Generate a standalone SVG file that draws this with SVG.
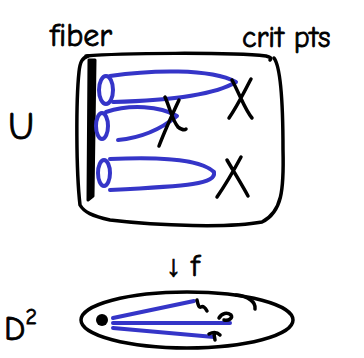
<svg xmlns="http://www.w3.org/2000/svg" width="364" height="358" viewBox="0 0 364 358">
<style>
.k{fill:none;stroke:#000;stroke-width:3.5;stroke-linecap:round;stroke-linejoin:round}
.b{fill:none;stroke:#3535c8;stroke-width:4;stroke-linecap:round;stroke-linejoin:round}
.t{font-family:"Comic Neue","Liberation Sans",sans-serif;fill:#000;stroke:#000;stroke-width:0.8}
</style>
<rect width="364" height="358" fill="#fff"/>
<g id="labels">
<text class="t" x="50" y="46" font-size="32">fiber</text>
<text class="t" x="242" y="47" font-size="30">crit pts</text>
<text class="t" x="8" y="139" font-size="38">U</text>
<text class="t" x="4" y="340" font-size="34">D<tspan font-size="22" dy="-16">2</tspan></text>
<text class="t" x="166" y="276" font-size="30">↓ f</text>
</g>
<g id="total-space">
<path class="k" d="M86,56 C120,53 230,52 266,56 C270,57 272,58 270,60"/>
<path class="k" d="M274,58 C280,66 283,100 283,150 C284,190 282,212 262,222 C230,228 160,226 110,220 C92,216 84,212 80,205 C76,170 76,100 79,72 C80,62 82,58 88,56"/>
<path d="M89,60 L88,200 L93,196 L95,60 Z" fill="#000" stroke="#000" stroke-width="3" stroke-linejoin="round"/>
</g>
<g id="loops">
<ellipse class="b" cx="106" cy="90" rx="7" ry="14"/>
<path class="b" d="M110,76 C150,70 210,68 236,82 C210,98 150,101 113,102"/>
<ellipse class="b" cx="102" cy="126" rx="6" ry="13"/>
<path class="b" d="M106,112 C130,104 160,106 177,116 C160,130 140,138 118,140"/>
<ellipse class="b" cx="104" cy="173" rx="6" ry="13"/>
<path class="b" d="M110,159 C150,157 200,158 214,172 C216,184 190,186 110,190"/>
</g>
<g id="crit-points">
<path class="k" d="M232,80 C240,95 245,110 252,118 M251,79 C244,92 238,105 229,118"/>
<path class="k" d="M165,97 C170,108 172,120 178,127 C182,130 185,130 186,129 M179,100 C172,115 165,130 159,146"/>
<path class="k" d="M241,157 C234,170 226,184 217,197 M227,160 C234,172 242,185 248,196"/>
</g>
<g id="base">
<ellipse class="k" cx="187" cy="320" rx="106" ry="28"/>
<path class="k" d="M236,295 C248,296 256,302 255,309"/>
<circle cx="102" cy="320" r="6" fill="#000"/>
<path class="b" d="M113,318 L194,301 M113,323 L230,323 M113,328 L214,337"/>
<path class="k" d="M197,300 C198,305 199,308 201,307 C203,306 205,307 207,311 M219,318 C222,313 227,312 231,315 C233,318 229,321 224,320 M209,334 C213,332 217,332 220,335 M214,334 L215,340"/>
</g>
</svg>
